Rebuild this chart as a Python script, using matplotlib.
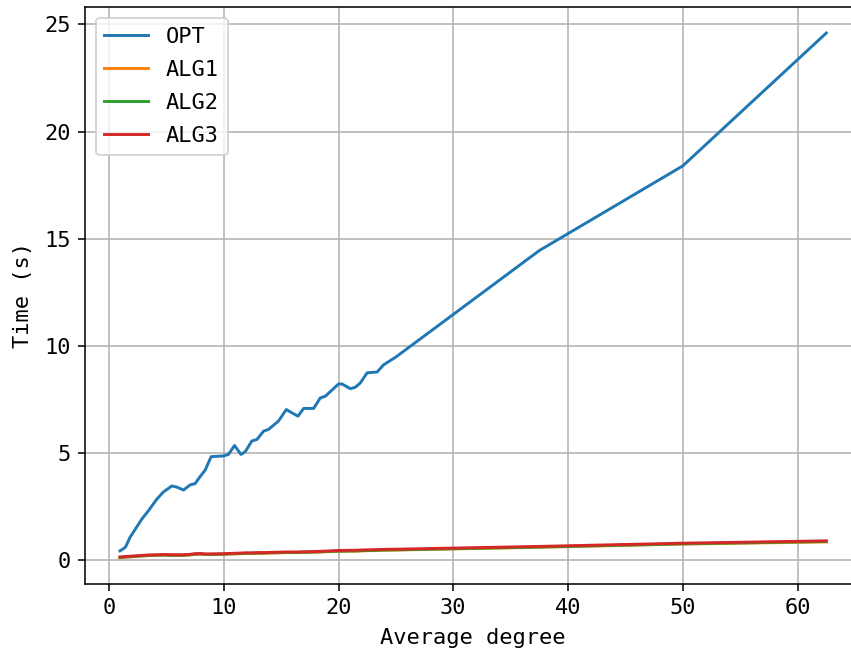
import matplotlib
matplotlib.use("Agg")
import matplotlib.pyplot as plt

plt.rcParams['font.family'] = ['DejaVu Sans Mono']
plt.rcParams['font.size'] = 11.3

avg_degree = [0.96, 1.3, 1.45, 1.83, 2.3, 2.85, 3.43, 4.16, 4.74, 5.47, 5.9, 6.49,
              7.07, 7.5, 7.94, 8.38, 8.9, 9.97, 10.4, 10.94, 11.5, 11.87, 12.45,
              12.89, 13.47, 13.9, 14.77, 15.45, 15.94, 16.47, 16.96, 17.83, 18.41,
              18.85, 20.0, 20.3, 21.03, 21.47, 21.9, 22.49, 23.36, 23.94, 25.0,
              37.5, 50.0, 62.5]

opt = [0.43, 0.55, 0.62, 1.06, 1.45, 1.91, 2.3, 2.84, 3.18, 3.46, 3.41, 3.27,
       3.51, 3.57, 3.9, 4.2, 4.83, 4.86, 4.93, 5.35, 4.93, 5.06, 5.56,
       5.63, 6.02, 6.1, 6.49, 7.03, 6.87, 6.72, 7.08, 7.08, 7.57,
       7.65, 8.22, 8.22, 8.0, 8.07, 8.27, 8.74, 8.78, 9.12, 9.48,
       14.45, 18.4, 24.6]

alg1 = [0.11, 0.13, 0.14, 0.15, 0.17, 0.19, 0.21, 0.22, 0.23, 0.22, 0.22, 0.22,
        0.24, 0.27, 0.28, 0.26, 0.26, 0.27, 0.28, 0.29, 0.30, 0.31, 0.31,
        0.32, 0.32, 0.33, 0.34, 0.35, 0.35, 0.35, 0.36, 0.37, 0.38,
        0.39, 0.41, 0.41, 0.42, 0.42, 0.43, 0.44, 0.45, 0.46, 0.47,
        0.60, 0.75, 0.85]

alg2 = [0.12, 0.14, 0.15, 0.16, 0.18, 0.20, 0.22, 0.23, 0.24, 0.23, 0.23, 0.23,
        0.25, 0.28, 0.29, 0.27, 0.27, 0.28, 0.29, 0.30, 0.31, 0.32, 0.32,
        0.33, 0.33, 0.34, 0.35, 0.36, 0.36, 0.36, 0.37, 0.38, 0.39,
        0.40, 0.42, 0.42, 0.43, 0.43, 0.44, 0.45, 0.46, 0.47, 0.48,
        0.61, 0.76, 0.87]

alg3 = [0.15, 0.16, 0.17, 0.18, 0.20, 0.22, 0.24, 0.25, 0.26, 0.25, 0.25, 0.25,
        0.27, 0.30, 0.31, 0.29, 0.29, 0.30, 0.31, 0.32, 0.33, 0.34, 0.34,
        0.35, 0.35, 0.36, 0.37, 0.38, 0.38, 0.38, 0.39, 0.40, 0.41,
        0.42, 0.45, 0.45, 0.46, 0.46, 0.47, 0.48, 0.49, 0.50, 0.51,
        0.64, 0.79, 0.90]

series = [("OPT", opt), ("ALG1", alg1), ("ALG2", alg2), ("ALG3", alg3)]

fig = plt.figure(figsize=(851 / 140, 651 / 140), dpi=140)
ax = fig.add_axes([84.7 / 851, 67 / 651, 776.9 / 851, 577.2 / 651])

for name, vals in series:
    ax.plot(avg_degree, vals, label=name)

ax.set_xlabel("Average degree", labelpad=5.5)
ax.set_ylabel("Time (s)", labelpad=6)
ax.grid(True)
ax.legend(loc="upper left", labelspacing=0.6)

fig.savefig("out.png", dpi=140)
